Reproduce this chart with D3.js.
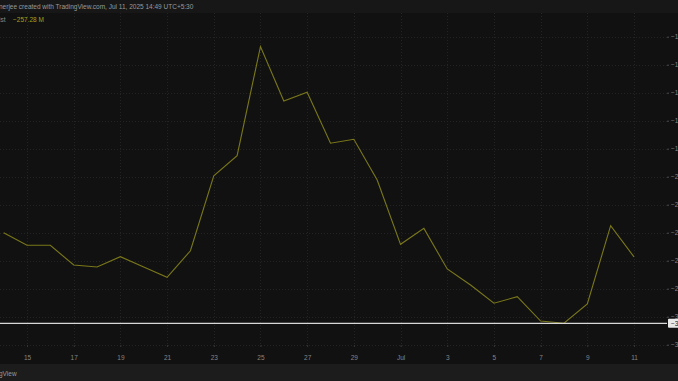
<!DOCTYPE html>
<html><head><meta charset="utf-8">
<script src="https://cdn.jsdelivr.net/npm/d3@7"></script>
<style>
html,body{margin:0;padding:0;background:#111111;overflow:hidden;}
svg{display:block;}
text{font-family:"Liberation Sans",Arial,sans-serif;}
</style></head>
<body>
<script>
// ---- data (values in millions) ----
const dates = ["2025-06-14","2025-06-15","2025-06-16","2025-06-17","2025-06-18","2025-06-19","2025-06-20","2025-06-21","2025-06-22","2025-06-23","2025-06-24","2025-06-25","2025-06-26","2025-06-27","2025-06-28","2025-06-29","2025-06-30","2025-07-01","2025-07-02","2025-07-03","2025-07-04","2025-07-05","2025-07-06","2025-07-07","2025-07-08","2025-07-09","2025-07-10","2025-07-11"];
const values = [-240.0,-249.0,-249.0,-263.1,-264.5,-257.1,-264.5,-271.9,-252.9,-199.3,-185.0,-107.1,-145.9,-139.7,-176.1,-173.3,-202.4,-248.3,-236.9,-265.9,-277.4,-290.4,-285.7,-303.1,-304.7,-290.9,-235.0,-257.28];
const xTickDates = ["2025-06-15","2025-06-17","2025-06-19","2025-06-21","2025-06-23","2025-06-25","2025-06-27","2025-06-29","2025-07-01","2025-07-03","2025-07-05","2025-07-07","2025-07-09","2025-07-11"];
const xTickLabels = ["15","17","19","21","23","25","27","29","Jul","3","5","7","9","11"];
const yTicks = [-100,-120,-140,-160,-180,-200,-220,-240,-260,-280,-300,-320];
const yTickLabels = ["−100.00 M","−120.00 M","−140.00 M","−160.00 M","−180.00 M","−200.00 M","−220.00 M","−240.00 M","−260.00 M","−280.00 M","−300.00 M","−320.00 M"];
const hLineValue = -304.7;
const hLineLabel = "−304.70 M";
const lastLabel = "−257.28 M";
const headerText = "nerjee created with TradingView.com, Jul 11, 2025 14:49 UTC+5:30";
const legendName = "ist";
const footerText = "gView";

// ---- layout ----
const W = 678, H = 381;
const plotTop = 13, plotBottom = 349, plotRight = 667;
const parse = d3.utcParse("%Y-%m-%d");

const svg = d3.select("body").append("svg").attr("width", W).attr("height", H);

// backgrounds
svg.append("rect").attr("x",0).attr("y",0).attr("width",W).attr("height",H).attr("fill","#111111");
svg.append("rect").attr("x",0).attr("y",0).attr("width",W).attr("height",plotTop).attr("fill","#171717");
svg.append("rect").attr("x",0).attr("y",364).attr("width",W).attr("height",H-364).attr("fill","#1c1c1c");

const x = d3.scaleUtc().domain([parse("2025-06-15"), parse("2025-07-11")]).range([27, 634]);
const y = d3.scaleLinear().domain([-323.07, -83.07]).range([plotBottom, plotTop]);

svg.append("clipPath").attr("id","plotclip").append("rect")
  .attr("x",0).attr("y",plotTop).attr("width",plotRight).attr("height",plotBottom-plotTop);

// grid
const grid = svg.append("g").attr("clip-path","url(#plotclip)");
grid.selectAll("line.v").data(xTickDates).join("line")
  .attr("x1", d => Math.round(x(parse(d)))+0.5).attr("x2", d => Math.round(x(parse(d)))+0.5)
  .attr("y1", plotTop).attr("y2", plotBottom)
  .attr("stroke","#232323").attr("stroke-width",1).attr("stroke-dasharray","1,2");
grid.selectAll("line.h").data(yTicks).join("line")
  .attr("x1", 0).attr("x2", plotRight)
  .attr("y1", d => Math.round(y(d))+0.5).attr("y2", d => Math.round(y(d))+0.5)
  .attr("stroke","#232323").attr("stroke-width",1).attr("stroke-dasharray","1,2");

// series line
const line = d3.line().x((d,i) => x(parse(dates[i]))).y(d => y(d));
svg.append("g").attr("clip-path","url(#plotclip)")
  .append("path").datum(values).attr("d", line)
  .attr("fill","none").attr("stroke","#7a781a").attr("stroke-width",1.1);

// horizontal white line
svg.append("line").attr("x1",0).attr("x2",plotRight)
  .attr("y1", y(hLineValue)).attr("y2", y(hLineValue))
  .attr("stroke","#d8d8d8").attr("stroke-width",1.2);

// y axis (right)
const yAxis = d3.axisRight(y).tickValues(yTicks).tickSize(2).tickPadding(2)
  .tickFormat((d,i) => yTickLabels[i]);
const ya = svg.append("g").attr("transform",`translate(${plotRight},0)`).call(yAxis);
ya.select(".domain").remove();
ya.selectAll(".tick line").attr("stroke","#4a4a4a");
ya.selectAll(".tick text").attr("fill","#858585").attr("font-size",6.5);

// label box for h-line
const gl = svg.append("g").attr("transform",`translate(668,${y(hLineValue)})`);
gl.append("rect").attr("x",0).attr("y",-4.5).attr("width",60).attr("height",9).attr("fill","#e8e8e8").attr("rx",1);
gl.append("text").attr("x",3).attr("y",2.3).attr("font-size",6.5).attr("fill","#111").text(hLineLabel);

// x axis
const xAxis = d3.axisBottom(x).tickValues(xTickDates.map(parse)).tickSize(2).tickPadding(8)
  .tickFormat((d,i) => xTickLabels[i]);
const xa = svg.append("g").attr("transform",`translate(0,${plotBottom-4})`).call(xAxis);
xa.select(".domain").remove();
xa.selectAll(".tick line").attr("stroke","#333333");
xa.selectAll(".tick text").attr("fill","#858585").attr("font-size",6.5);

// header / legend / footer
svg.append("text").attr("x",-1).attr("y",9).attr("font-size",6.5).attr("fill","#9a9a9a").text(headerText);
svg.append("text").attr("x",-1).attr("y",22).attr("font-size",6.5).attr("fill","#8a8a8a").text(legendName);
svg.append("text").attr("x",13).attr("y",22).attr("font-size",6.5).attr("fill","#a3a11e").text(lastLabel);
svg.append("text").attr("x",-1).attr("y",376).attr("font-size",6.5).attr("fill","#9a9a9a").text(footerText);
</script>
</body></html>
